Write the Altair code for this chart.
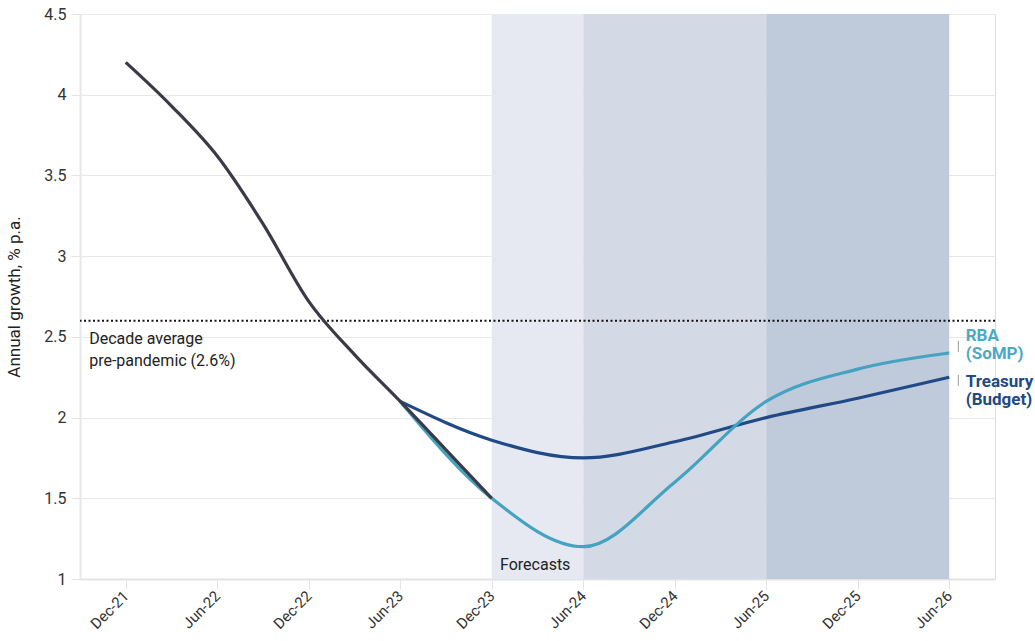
import altair as alt
import pandas as pd

tick_labels = ["Dec-21", "Jun-22", "Dec-22", "Jun-23", "Dec-23",
               "Jun-24", "Dec-24", "Jun-25", "Dec-25", "Jun-26"]

# history (quarterly, t in half-year steps from Dec-21)
hist_t = [0, 0.5, 1, 1.5, 2, 2.5, 3, 3.5, 4]
hist_v = [4.2, 3.93, 3.62, 3.2, 2.72, 2.39, 2.1, 1.8, 1.5]

treas_t = [3, 4, 5, 6, 7, 8, 9]
treas_v = [2.1, 1.86, 1.75, 1.85, 2.0, 2.12, 2.25]

rba_t = [3, 4, 5, 6, 7, 8, 9]
rba_v = [2.1, 1.5, 1.2, 1.6, 2.1, 2.3, 2.4]

shade_start = [4, 5, 7]
shade_end = [5, 7, 9]
shade_col = ["#e6e9f2", "#d3dae6", "#bfcada"]

W, H = 915, 565
FONT = "Roboto"

label_expr = "[" + ",".join(f"'{s}'" for s in tick_labels) + "][round(datum.value)]"

x_scale = alt.Scale(domain=[-0.5, 9.5], nice=False, zero=False)
y_scale = alt.Scale(domain=[1, 4.5], nice=False, zero=False)

x_axis = alt.Axis(values=list(range(10)), labelExpr=label_expr, title=None,
                  grid=False, labelAngle=-45, labelAlign="right", labelBaseline="middle",
                  labelFontSize=15, labelColor="#333333", labelFont=FONT,
                  domainColor="#e3e3e3", tickColor="#e3e3e3", tickSize=10, labelPadding=4,
                  domainWidth=2)
y_axis = alt.Axis(values=[1, 1.5, 2, 2.5, 3, 3.5, 4, 4.5], format="~g",
                  title="Annual growth, % p.a.", titleFontSize=17, titleFontWeight="normal",
                  titleFont=FONT, titleColor="#222222", titlePadding=20,
                  labelFontSize=16, labelColor="#333333", labelFont=FONT,
                  gridColor="#e8e8e8", domainColor="#e8e8e8", tickColor="#e3e3e3",
                  tickSize=9, domainWidth=2, labelPadding=5)

shade_df = pd.DataFrame({"s": shade_start, "e": shade_end, "c": shade_col})
shades = alt.Chart(shade_df).mark_rect().encode(
    x=alt.X("s:Q", scale=x_scale, axis=x_axis),
    x2="e:Q",
    y=alt.value(0), y2=alt.value(H),
    color=alt.Color("c:N", scale=None),
)

grid = alt.Chart(pd.DataFrame({"v": [1]})).mark_point(opacity=0).encode(
    y=alt.Y("v:Q", scale=y_scale, axis=y_axis),
)

df_hist = pd.DataFrame({"t": hist_t, "v": hist_v})
df_treas = pd.DataFrame({"t": treas_t, "v": treas_v})
df_rba = pd.DataFrame({"t": rba_t, "v": rba_v})

def line(df, color):
    return alt.Chart(df).mark_line(color=color, strokeWidth=3.2, interpolate="monotone").encode(
        x=alt.X("t:Q", scale=x_scale), y=alt.Y("v:Q", scale=y_scale))

rule = alt.Chart(pd.DataFrame({"v": [2.6]})).mark_rule(
    color="#111111", strokeDash=[2, 2.5], strokeWidth=2).encode(
    y=alt.Y("v:Q", scale=y_scale))

txt_df = pd.DataFrame({
    "t": [-0.4, 4.09],
    "v": [2.455, 1.055],
    "s": ["Decade average\npre-pandemic (2.6%)", "Forecasts"],
})
texts = alt.Chart(txt_df).mark_text(align="left", baseline="alphabetic", fontSize=16,
                                    font=FONT, color="#222222", lineBreak="\n",
                                    lineHeight=22).encode(
    x=alt.X("t:Q", scale=x_scale), y=alt.Y("v:Q", scale=y_scale), text="s:N")

lab_df = pd.DataFrame({
    "t": [9.18, 9.18],
    "v": [2.475, 2.19],
    "s": ["RBA\n(SoMP)", "Treasury\n(Budget)"],
    "c": ["#4aa9c6", "#1f4a85"],
})
labels = alt.Chart(lab_df).mark_text(align="left", baseline="alphabetic", fontSize=17,
                                     fontWeight="bold", font=FONT, lineBreak="\n",
                                     lineHeight=18).encode(
    x=alt.X("t:Q", scale=x_scale), y=alt.Y("v:Q", scale=y_scale), text="s:N",
    color=alt.Color("c:N", scale=None))

conn_df = pd.DataFrame({"t": [9.1, 9.1], "v": [2.475, 2.264], "v2": [2.406, 2.196]})
conns = alt.Chart(conn_df).mark_rule(color="#aaaaaa", strokeWidth=1.2).encode(
    x=alt.X("t:Q", scale=x_scale), y=alt.Y("v:Q", scale=y_scale), y2="v2:Q")

chart = alt.layer(
    shades, grid, rule, line(df_treas, "#1f4a85"), line(df_rba, "#44a3c1"),
    line(df_hist, "#3b3b47"), texts, labels, conns
).properties(
    width=W, height=H,
    padding={"left": 80, "top": 14, "right": 40, "bottom": 62},
    autosize=alt.AutoSizeParams(type="none"),
).configure_view(stroke=None).configure(background="white")

chart.save("out.html", embed_options={"renderer": "svg", "actions": False})
